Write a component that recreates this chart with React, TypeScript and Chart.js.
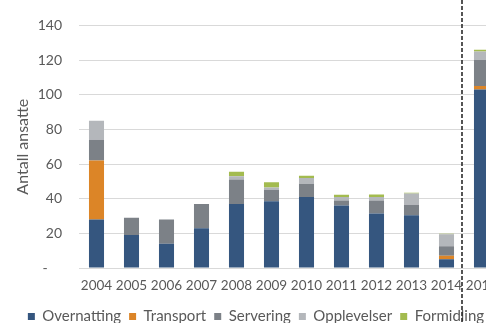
import React, { useEffect, useRef } from "react";
import { Chart, registerables } from "chart.js";

Chart.register(...registerables);

const categories = ["2004", "2005", "2006", "2007", "2008", "2009", "2010", "2011", "2012", "2013", "2014", "2015"];
const overnatting = [28, 19, 14, 23, 37, 38.5, 41, 36, 31.5, 30.5, 5, 103];
const transport = [34, 0, 0, 0, 0, 0, 0, 0, 0, 0, 2, 2];
const servering = [12, 10, 14, 14, 14, 6.5, 7.5, 3, 7.5, 6, 5.5, 15];
const opplevelser = [11, 0, 0, 0, 2, 1.5, 3.4, 2, 2, 6.5, 7, 5];
const formidling = [0, 0, 0, 0, 2.5, 3, 1.3, 1.2, 1.4, 0.4, 0.3, 1];
const yTicks = [0, 20, 40, 60, 80, 100, 120, 140];
const dividerAfter = "2014";

const FONT = "Lato, 'Open Sans', sans-serif";
const TEXT = "#595959";

const dividerPlugin = {
  id: "divider",
  afterDatasetsDraw(chart: any) {
    const xs = chart.scales.x;
    const i = categories.indexOf(dividerAfter);
    const x = (xs.getPixelForValue(i) + xs.getPixelForValue(i + 1)) / 2 - 2;
    const ctx = chart.ctx;
    ctx.save();
    ctx.strokeStyle = "#2b2b2b";
    ctx.lineWidth = 1.6;
    ctx.setLineDash([4, 2]);
    ctx.beginPath();
    ctx.moveTo(x, 0);
    ctx.lineTo(x, chart.height);
    ctx.stroke();
    ctx.restore();
  },
};

export default function App() {
  const ref = useRef<HTMLCanvasElement>(null);
  useEffect(() => {
    const mk = (label: string, data: number[], color: string) => ({
      label,
      data,
      backgroundColor: color,
      borderWidth: 0,
      categoryPercentage: 1,
      barPercentage: 0.43,
    });
    const chart = new Chart(ref.current!, {
      type: "bar",
      data: {
        labels: categories,
        datasets: [
          mk("Overnatting", overnatting, "#35567f"),
          mk("Transport", transport, "#dc8527"),
          mk("Servering", servering, "#7c8187"),
          mk("Opplevelser", opplevelser, "#b4b7bb"),
          mk("Formidling", formidling, "#a3bb4f"),
        ],
      },
      options: {
        responsive: false,
        animation: false,
        layout: { padding: { top: 17, left: 13, right: 13, bottom: 0 } },
        plugins: {
          tooltip: { enabled: false },
          legend: {
            position: "bottom",
            labels: {
              boxWidth: 7,
              boxHeight: 7,
              padding: 8,
              color: TEXT,
              font: { family: FONT, size: 15 },
            },
          },
        },
        scales: {
          x: {
            stacked: true,
            grid: { display: false, drawTicks: false },
            border: { display: false },
            ticks: { color: TEXT, font: { family: FONT, size: 13.5 }, padding: 10, maxRotation: 0 },
            afterFit(scale: any) {
              scale.height = 33;
            },
          },
          y: {
            stacked: true,
            min: 0,
            max: 140,
            afterBuildTicks(scale: any) {
              scale.ticks = yTicks.map((v) => ({ value: v }));
            },
            grid: { color: "#d9d9d9", drawTicks: false, lineWidth: 1 },
            border: { display: false },
            ticks: {
              color: TEXT,
              font: { family: FONT, size: 14 },
              padding: 17,
              callback: (v: any) => (Number(v) === 0 ? "-    " : String(v)),
            },
            title: {
              display: true,
              text: "Antall ansatte",
              color: TEXT,
              font: { family: FONT, size: 16 },
              padding: 0,
            },
            afterFit(scale: any) {
              scale.width = 66;
            },
          },
        },
      },
      plugins: [dividerPlugin],
    });
    return () => chart.destroy();
  }, []);
  return (
    <div style={{ position: "fixed", top: 0, left: 0, width: 486, height: 323, overflow: "hidden", background: "#fff" }}>
      <canvas ref={ref} width={512} height={334} style={{ width: 512, height: 334, display: "block" }} />
    </div>
  );
}
